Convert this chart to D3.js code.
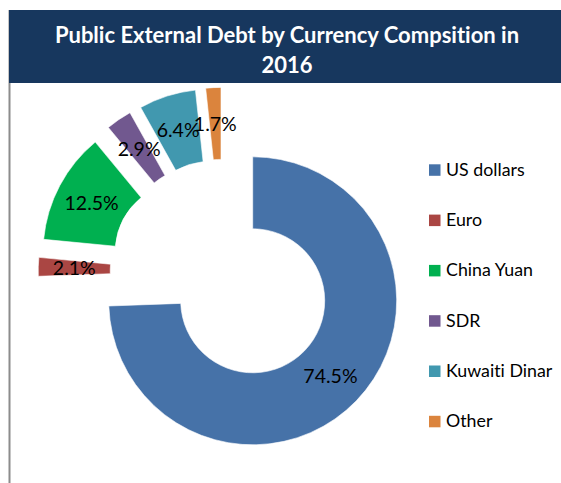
<!DOCTYPE html>
<html>
<head>
<meta charset="utf-8">
<script src="https://cdn.jsdelivr.net/npm/d3@7"></script>
<style>
  html, body { margin: 0; padding: 0; background: #fff; }
  svg { display: block; }
  text { font-variant-ligatures: none; font-feature-settings: "liga" 0, "clig" 0; }
</style>
</head>
<body>
<svg id="chart" width="561" height="483"></svg>
<script>
// ---- data ----
const titleLines = ["Public External Debt by Currency Compsition in", "2016"];
const categories = ["US dollars", "Euro", "China Yuan", "SDR", "Kuwaiti Dinar", "Other"];
const shares = [74.5, 2.1, 12.5, 2.9, 6.4, 1.7];
const exploded = [false, true, true, true, true, true];
const colors = ["#4672A8", "#AA4643", "#00B050", "#71588F", "#4198AF", "#DB843D"];

// ---- layout / style ----
const W = 561, H = 483;
const cx = 252.7, cy = 300.8;
const rOuter = 144, rInner = 72;
const explodeSlice = 41, explodeGroup = 41;
const font = "Lato, 'Carlito', Calibri, sans-serif";

const svg = d3.select("#chart");

// frame: left border
svg.append("line")
  .attr("x1", 9.5).attr("x2", 9.5).attr("y1", 10).attr("y2", H)
  .attr("stroke", "#8c8c8c").attr("stroke-width", 2);

// title banner
svg.append("rect")
  .attr("x", 9).attr("y", 10).attr("width", W - 9).attr("height", 73)
  .attr("fill", "#17375E");

const title = svg.append("text")
  .attr("text-anchor", "middle")
  .attr("font-family", font).attr("font-weight", "bold")
  .attr("font-size", 22).attr("fill", "#fff");
titleLines.forEach((t, i) => {
  title.append("tspan").attr("x", 287).attr("y", 43 + i * 29.5).text(t);
});

// pie
const pie = d3.pie().sort(null).value(d => d);
const arcs = pie(shares);
const arc = d3.arc().innerRadius(rInner).outerRadius(rOuter);

const expArcs = arcs.filter((a, i) => exploded[i]);
const gStart = d3.min(expArcs, a => a.startAngle);
const gEnd = d3.max(expArcs, a => a.endAngle);
const gMid = (gStart + gEnd) / 2;
const u = a => [Math.sin(a), -Math.cos(a)];

function offset(a, i) {
  if (!exploded[i]) return [0, 0];
  const m = (a.startAngle + a.endAngle) / 2;
  const [mx, my] = u(m), [gx, gy] = u(gMid);
  return [explodeSlice * mx + explodeGroup * gx, explodeSlice * my + explodeGroup * gy];
}

const g = svg.append("g").attr("transform", `translate(${cx},${cy})`);
const slices = g.selectAll("g.slice").data(arcs).enter().append("g")
  .attr("class", "slice")
  .attr("transform", (a, i) => { const o = offset(a, i); return `translate(${o[0]},${o[1]})`; });

slices.append("path")
  .attr("d", arc)
  .attr("fill", (a, i) => colors[i])
  .attr("stroke", "#fff").attr("stroke-width", 0.6);

slices.append("text")
  .attr("transform", a => `translate(${arc.centroid(a)})`)
  .attr("text-anchor", "middle")
  .attr("dy", "0.36em")
  .attr("font-family", font)
  .attr("font-size", 19.5)
  .attr("fill", "#000")
  .text(d => d.data.toFixed(1) + "%");

// legend
const legend = svg.append("g").attr("transform", "translate(429,164.3)");
const items = legend.selectAll("g").data(categories).enter().append("g")
  .attr("transform", (d, i) => `translate(0,${i * 50.3})`);
items.append("rect").attr("width", 11.5).attr("height", 11.5)
  .attr("fill", (d, i) => colors[i]);
items.append("text")
  .attr("x", 17).attr("y", 11.4)
  .attr("font-family", font).attr("font-size", 17.8).attr("fill", "#000")
  .text(d => d);
</script>
</body>
</html>
